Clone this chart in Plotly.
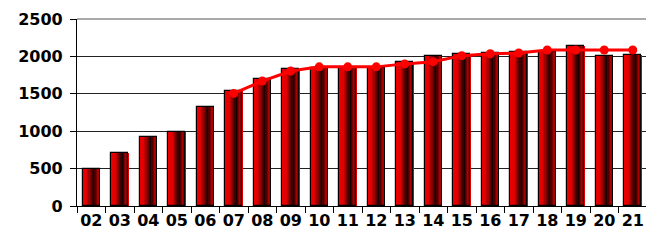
import plotly.graph_objects as go

categories = ["02", "03", "04", "05", "06", "07", "08", "09", "10", "11",
              "12", "13", "14", "15", "16", "17", "18", "19", "20", "21"]
bar_values = [495, 705, 920, 990, 1325, 1540, 1700, 1830, 1840, 1840,
              1840, 1930, 2000, 2030, 2040, 2060, 2060, 2135, 2000, 2015]
line_values = [None, None, None, None, None, 1505, 1670, 1805, 1860, 1860,
               1860, 1900, 1930, 2010, 2035, 2045, 2085, 2085, 2085, 2085]
y_ticks = [0, 500, 1000, 1500, 2000, 2500]

BAR_W = 0.61
N_STRIPS = 14


def strip_color(t):
    # cylinder-like shading: bright red -> dark -> red
    stops = [(0.0, (235, 0, 0)), (0.25, (225, 0, 0)), (0.5, (110, 0, 0)),
             (0.68, (25, 0, 0)), (0.85, (140, 0, 0)), (1.0, (240, 0, 0))]
    for (t0, c0), (t1, c1) in zip(stops, stops[1:]):
        if t0 <= t <= t1:
            f = (t - t0) / (t1 - t0)
            return "rgb(%d,%d,%d)" % tuple(round(a + (b - a) * f) for a, b in zip(c0, c1))
    return "rgb(240,0,0)"


fig = go.Figure()
sw = BAR_W / N_STRIPS
for i in range(N_STRIPS):
    t = (i + 0.5) / N_STRIPS
    fig.add_trace(go.Bar(
        x=categories, y=bar_values, width=sw * 1.02, offset=-BAR_W / 2 + i * sw,
        marker=dict(color=strip_color(t), line=dict(width=0)),
        showlegend=False, hoverinfo="skip"))
# outline
fig.add_trace(go.Bar(
    x=categories, y=bar_values, width=BAR_W, offset=-BAR_W / 2,
    marker=dict(color="rgba(0,0,0,0)", line=dict(color="black", width=1.2)),
    showlegend=False))

fig.add_trace(go.Scatter(
    x=categories, y=line_values, mode="lines+markers",
    line=dict(color="#ff0000", width=3),
    marker=dict(color="#ff0000", size=9),
    showlegend=False, connectgaps=False))

font = dict(family="DejaVu Sans", size=16, color="black", weight="bold")

# page body has an 8px default margin, so the figure is sized to compensate
fig.update_layout(
    width=646, height=234,
    margin=dict(l=69, r=7, t=11, b=36),
    paper_bgcolor="white", plot_bgcolor="white",
    barmode="overlay", bargap=0,
    font=font,
    shapes=[
        dict(type="line", xref="paper", yref="paper", x0=0, x1=1, y0=1, y1=1,
             line=dict(color="#8c8c8c", width=1.5)),
        dict(type="line", xref="paper", yref="paper", x0=1, x1=1, y0=0, y1=1,
             line=dict(color="#8c8c8c", width=1.5)),
    ],
)
fig.update_xaxes(
    type="category", categoryorder="array", categoryarray=categories,
    showline=True, linecolor="black", linewidth=1.2,
    ticks="outside", ticklen=6, tickcolor="black", tickwidth=1,
    tickson="boundaries", showgrid=False, tickangle=0, automargin=False,
    tickfont=font, range=[-0.5, len(categories) - 0.5],
)
fig.update_yaxes(
    range=[0, 2500], tickvals=y_ticks,
    showline=True, linecolor="black", linewidth=1.2,
    ticks="outside", ticklen=6, tickcolor="black", automargin=False,
    showgrid=True, gridcolor="#222222", gridwidth=0.8,
    zeroline=False, tickfont=font, ticklabelstandoff=4,
)

fig.write_html("out.html")
